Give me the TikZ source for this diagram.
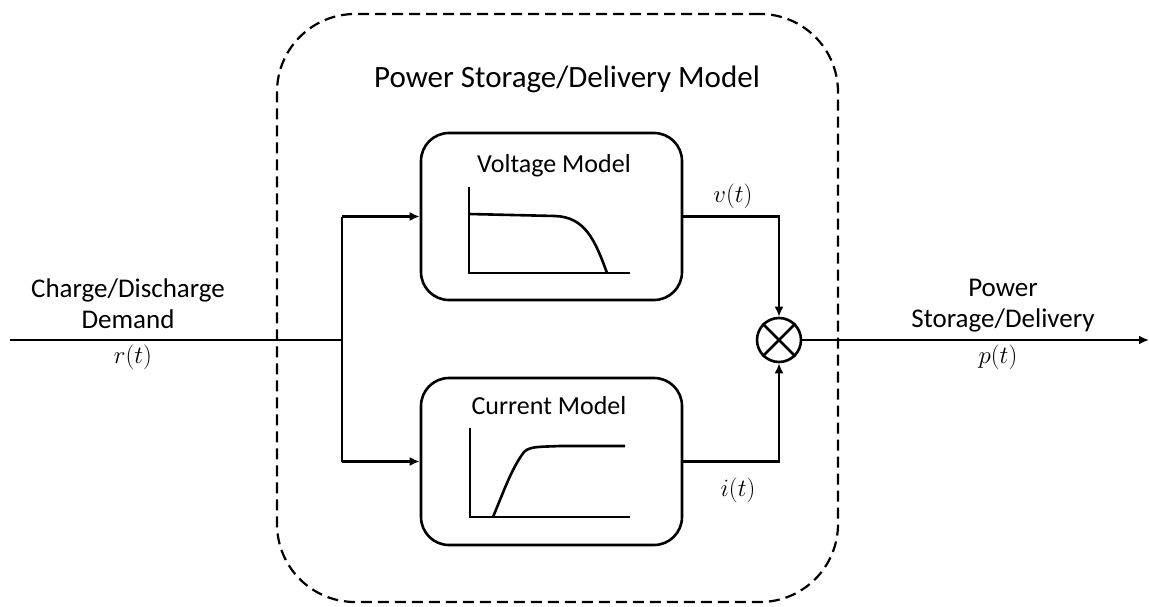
\documentclass[tikz,border=0pt]{standalone}
\usepackage{fontspec}
\setmainfont{Carlito}
\usetikzlibrary{arrows.meta}
\tikzset{
  ln/.style={line width=2.6pt},
  mbox/.style={draw, line width=2.6pt, rounded corners=28pt, minimum width=261pt, minimum height=167pt, inner sep=0pt},
  outerbox/.style={draw, line width=2.2pt, dash pattern=on 11pt off 6pt, rounded corners=78pt, minimum width=561pt, minimum height=588pt, inner sep=0pt},
  arr/.style={ln, -{Latex[length=10pt,width=9pt]}},
  lab/.style={font=\fontsize{27}{31}\selectfont, align=center, inner sep=0pt},
  boxtitle/.style={font=\fontsize{26}{31}\selectfont, inner sep=0pt, anchor=base},
  mlab/.style={font=\fontsize{28}{33}\selectfont, inner sep=0pt},
  multnode/.style={draw, circle, line width=2.6pt, minimum size=44pt, inner sep=0pt},
}
\begin{document}
\begin{tikzpicture}[x=1pt,y=-1pt]
\useasboundingbox (0,0) rectangle (1149,607);
% outer dashed model
\node[outerbox] (outer) at (557.5,308) {};
\node[font=\fontsize{31}{37}\selectfont, inner sep=0pt, anchor=base] (title) at (567,88) {Power Storage/Delivery Model};
% inner boxes
\node[mbox] (vbox) at (551.5,216.5) {};
\node[mbox] (cbox) at (551.5,461.5) {};
\node[boxtitle] (vtitle) at (554,172) {Voltage Model};
\node[boxtitle] (ctitle) at (549,414) {Current Model};
% voltage plot
\draw[ln] (469,187) -- (469,273) -- (630,273);
\draw[ln] (469,214) -- (555,216) .. controls (585,217) and (595,240) .. (607,273);
% current plot
\draw[ln] (470,428) -- (470,517) -- (630,517);
\draw[ln] (493,517) .. controls (505,488) and (512,468) .. (524,452) .. controls (530,446) and (540,447) .. (560,446) -- (625,446);
% multiplier
\node[multnode] (mult) at (779,340) {};
\draw[ln] (mult.north east) -- (mult.south west);
\draw[ln] (mult.north west) -- (mult.south east);
% connectors
\coordinate (in) at (10,340);
\coordinate (j) at (342,340);
\coordinate (out) at (1149,340);
\draw[ln] (in) -- (j);
\draw[ln] (j |- vbox.west) -- (j |- cbox.west);
\draw[arr] (j |- vbox.west) -- (vbox.west);
\draw[arr] (j |- cbox.west) -- (cbox.west);
\draw[arr] (vbox.east) -| (mult.north);
\draw[arr] (cbox.east) -| (mult.south);
\draw[arr] (mult.east) -- (out);
% labels
\node[lab] (inlab) at (128,304) {Charge/Discharge\\Demand};
\node[lab] (outlab) at (1003,306) {Power\\Storage/Delivery};
\node[mlab] (r) at (133,357) {$r(t)$};
\node[mlab] (p) at (998,357) {$p(t)$};
\node[mlab] (v) at (733,196) {$v(t)$};
\node[mlab] (i) at (738,490) {$i(t)$};
\end{tikzpicture}
\end{document}
